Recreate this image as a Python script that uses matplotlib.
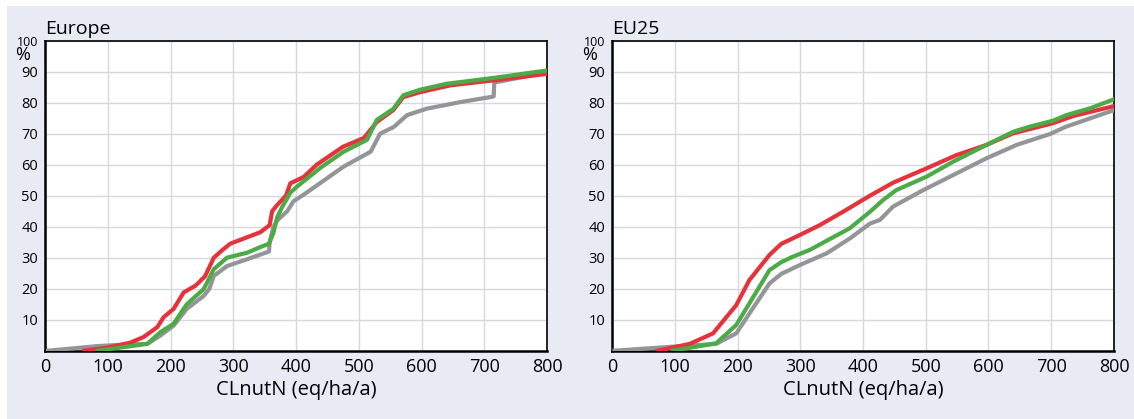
import matplotlib.pyplot as plt
from matplotlib.patches import Rectangle

plt.rcParams['font.family'] = ['Open Sans', 'DejaVu Sans']

# x ticks and y ticks
x_ticks = [0, 100, 200, 300, 400, 500, 600, 700, 800]
y_ticks = [10, 20, 30, 40, 50, 60, 70, 80, 90, 100]

# Europe panel
eu_red_x = [62, 100, 136, 157, 179, 189, 205, 221, 240, 255, 262, 269, 280, 295, 343, 358, 362, 370, 384, 391, 412, 433, 475, 508, 529, 555, 571, 598, 646, 715, 800]
eu_red_y = [0, 1, 2.6, 4.4, 7.6, 10.8, 13.5, 18.8, 21, 24, 27, 30, 32, 34.5, 38.2, 40.5, 45, 47, 50, 54, 56, 60, 65.8, 68.6, 73.8, 77.6, 81.8, 83.4, 85.6, 87.2, 89.3]

eu_green_x = [84, 163, 184, 205, 226, 253, 269, 290, 322, 344, 357, 364, 370, 377, 391, 402, 439, 476, 513, 529, 555, 571, 598, 640, 715, 800]
eu_green_y = [0, 2.2, 6, 8.7, 15, 19.9, 26.3, 30, 31.6, 33.5, 34.5, 38, 43, 46, 51, 53, 59, 64.2, 68, 74.5, 78, 82.4, 84.2, 86.1, 88, 90.4]

eu_gray_x = [5, 84, 130, 163, 184, 205, 226, 253, 262, 269, 290, 322, 357, 358, 364, 370, 386, 396, 412, 476, 519, 534, 556, 577, 609, 662, 715, 716, 800]
eu_gray_y = [0, 1.5, 2, 2.2, 4.9, 8.1, 13.5, 17.7, 20, 24.1, 27.3, 29.5, 32, 35, 40, 42, 45, 48.2, 50.3, 59.4, 64.2, 70, 72.2, 76, 78.1, 80.2, 82, 86.5, 89.8]

# EU25 panel
eu25_red_x = [73, 124, 161, 198, 219, 251, 270, 299, 331, 368, 411, 448, 501, 549, 597, 639, 703, 735, 800]
eu25_red_y = [0, 2.2, 5.6, 14.7, 22.8, 30.9, 34.5, 37.3, 40.5, 44.8, 50, 54.2, 58.8, 63.1, 66.4, 70.1, 73.4, 75.7, 78.9]

eu25_green_x = [97, 166, 198, 219, 251, 270, 288, 315, 379, 411, 432, 453, 501, 544, 591, 639, 666, 703, 724, 762, 800]
eu25_green_y = [0, 2.4, 8.3, 15.3, 26, 28.6, 30.3, 32.5, 39.5, 44.8, 48.6, 51.8, 56.1, 61, 65.8, 70.6, 72.3, 74.2, 76, 78.2, 81.1]

eu25_gray_x = [4, 97, 166, 198, 219, 251, 270, 299, 342, 379, 411, 427, 448, 496, 549, 597, 645, 698, 724, 800]
eu25_gray_y = [0, 1.3, 2.2, 5.6, 12, 21.7, 24.8, 27.6, 31.4, 36.2, 41, 42.2, 46.5, 51.8, 57.2, 62.1, 66.4, 69.9, 72.3, 77.6]

red = '#e5323b'
green = '#4dab47'
gray = '#939598'
bg = '#e8ebf3'

fig = plt.figure(figsize=(11.34, 4.19), dpi=100, facecolor='white')
fig.patches.append(Rectangle((7 / 1134, 0), 1, 1 - 6 / 419, transform=fig.transFigure,
                             facecolor=bg, edgecolor='none', zorder=-10))

panels = [
    ('Europe', 45, eu_gray_x, eu_gray_y, eu_red_x, eu_red_y, eu_green_x, eu_green_y),
    ('EU25', 612, eu25_gray_x, eu25_gray_y, eu25_red_x, eu25_red_y, eu25_green_x, eu25_green_y),
]

for title, left_px, gx, gy, rx, ry, grx, gry in panels:
    ax = fig.add_axes([left_px / 1134, (419 - 350.7) / 419, 502 / 1134, 310 / 419])
    ax.set_facecolor('white')
    ax.plot(gx, gy, color=gray, lw=3, solid_joinstyle='round', zorder=3)
    ax.plot(rx, ry, color=red, lw=3, solid_joinstyle='round', zorder=4)
    ax.plot(grx, gry, color=green, lw=3, solid_joinstyle='round', zorder=5)
    ax.set_xlim(0, 800)
    ax.set_ylim(0, 100)
    ax.set_xticks(x_ticks)
    ax.set_yticks(y_ticks)
    ax.tick_params(axis='both', length=0)
    ax.tick_params(axis='x', labelsize=13, pad=5)
    ax.tick_params(axis='y', labelsize=10.5, pad=5)
    # the top label is set smaller in the original
    ax.get_yticklabels()[-1].set_fontsize(9)
    ax.grid(True, color='#d6d8de', lw=1)
    ax.set_axisbelow(True)
    for side in ['left', 'bottom']:
        ax.spines[side].set_linewidth(1.8)
    for side in ['top', 'right']:
        ax.spines[side].set_linewidth(1.2)
    ax.set_title(title, loc='left', fontsize=14, pad=5)
    ax.set_xlabel('CLnutN (eq/ha/a)', fontsize=14.5, labelpad=3)
    ax.text(-0.045, 0.953, '%', transform=ax.transAxes, fontsize=13,
            ha='center', va='center')

fig.savefig('out.png', dpi=100)
